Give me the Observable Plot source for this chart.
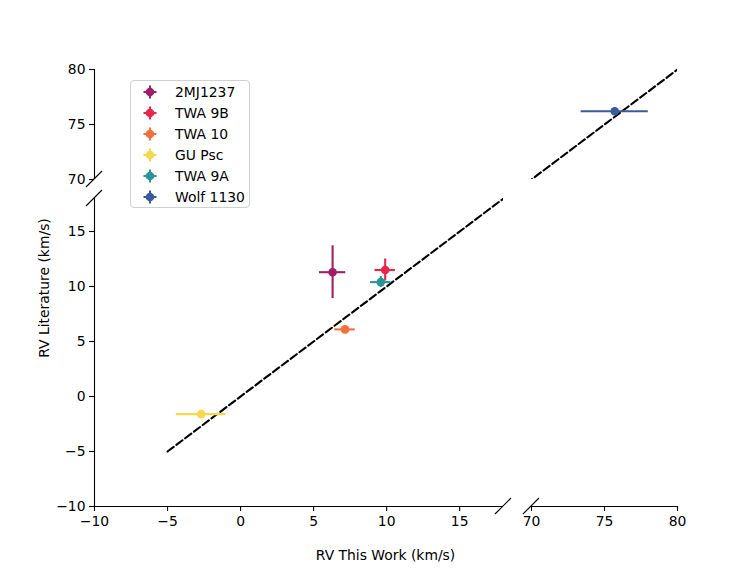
<!DOCTYPE html>
<html>
<head>
<meta charset="utf-8">
<script src="https://cdn.jsdelivr.net/npm/d3@7"></script>
<script src="https://cdn.jsdelivr.net/npm/@observablehq/plot@0.6"></script>
<style>
  body { margin: 0; background: #fff; }
  #fig { position: relative; width: 752px; height: 569px; font-family: "DejaVu Sans", sans-serif; font-size: 13.9px; color: #000; overflow: hidden; }
  #fig svg.panel { position: absolute; left: 0; top: 0; }
  .axis-label { position: absolute; white-space: nowrap; line-height: 1; }
  #legend { position: absolute; left: 130px; top: 80px; width: 120px; height: 128px; box-sizing: border-box;
            border: 1px solid #d0d0d0; border-radius: 4px; background: rgba(255,255,255,0.8); }
  #legend .item { position: absolute; left: 0; height: 20px; display: flex; align-items: center; }
  #legend .item svg { margin-left: 11px; }
  #legend .item span { margin-left: 17px; }
</style>
</head>
<body>
<div id="fig"></div>
<script>
// Radial velocities: this work vs. literature (km/s)
const names = ["2MJ1237", "TWA 9B", "TWA 10", "GU Psc", "TWA 9A", "Wolf 1130"];
const rvThisWork = [6.3, 9.9, 7.15, -2.7, 9.6, 75.7];
const rvThisWorkErr = [0.9, 0.7, 0.7, 1.7, 0.7, 2.3];
const rvLiterature = [11.3, 11.5, 6.1, -1.6, 10.4, 76.2];
const rvLiteratureErr = [2.4, 1.0, 0.1, 0.1, 0.5, 0.1];
const colors = ["#9e1f66", "#e8254a", "#f2703b", "#f7d74c", "#2a9497", "#3a5a9c"];

// Broken-axis segments and their ticks
const lowDomain = [-10, 18];
const highDomain = [70, 80];
const lowTicks = [-10, -5, 0, 5, 10, 15];
const highTicks = [70, 75, 80];
// One-to-one reference line extent
const oneToOne = [-5, 80];

const stars = names.map((name, i) => ({
  name,
  x: rvThisWork[i], xErr: rvThisWorkErr[i],
  y: rvLiterature[i], yErr: rvLiteratureErr[i]
}));

const W = 752, H = 569;
const fmt = d3.format("d");
const fig = document.getElementById("fig");

// Diagonal "//" break markers on the spines, placed at frame corners
function breaks(corners) {
  return (index, scales, values, dim) => {
    const g = d3.create("svg:g").attr("stroke", "black").attr("stroke-width", 1.1);
    const s = 8;
    for (const [hx, vy] of corners) {
      const px = hx === "left" ? dim.marginLeft : dim.width - dim.marginRight;
      const py = vy === "top" ? dim.marginTop : dim.height - dim.marginBottom;
      g.append("line").attr("x1", px - s).attr("y1", py + s).attr("x2", px + s).attr("y2", py - s);
    }
    return g.node();
  };
}

function panel({xDomain, yDomain, left, right, top, bottom, showX, showY, corners}) {
  const marks = [
    Plot.line(oneToOne, {x: d => d, y: d => d, stroke: "black", strokeWidth: 2.1, strokeDasharray: "7.7,3.3", clip: true}),
    ...stars.flatMap(s => [
      Plot.ruleY([s], {y: "y", x1: d => d.x - d.xErr, x2: d => d.x + d.xErr, stroke: "name", strokeWidth: 2.1, clip: true}),
      Plot.ruleX([s], {x: "x", y1: d => d.y - d.yErr, y2: d => d.y + d.yErr, stroke: "name", strokeWidth: 2.1, clip: true}),
      Plot.dot([s], {x: "x", y: "y", fill: "name", r: 4.3, clip: true})
    ])
  ];
  if (showY) {
    marks.push(Plot.ruleX([xDomain[0]], {stroke: "black", strokeWidth: 1.1}));
    marks.push(Plot.axisY({ticks: showY, tickSize: 5, tickPadding: 4, tickFormat: fmt, label: null, strokeWidth: 1.1}));
  }
  if (showX) {
    marks.push(Plot.ruleY([yDomain[0]], {stroke: "black", strokeWidth: 1.1}));
    marks.push(Plot.axisX({ticks: showX, tickSize: 5, tickPadding: 5, tickFormat: fmt, label: null, strokeWidth: 1.1}));
  }
  marks.push(breaks(corners));
  const svg = Plot.plot({
    width: W, height: H,
    marginLeft: left, marginRight: W - right, marginTop: top, marginBottom: H - bottom,
    x: {domain: xDomain, axis: null},
    y: {domain: yDomain, axis: null},
    color: {domain: names, range: colors},
    style: {fontSize: "13.9px", fontFamily: "DejaVu Sans, sans-serif", color: "black", background: "transparent", overflow: "visible"},
    marks
  });
  svg.classList.add("panel");
  fig.appendChild(svg);
}

// lower-left, upper-left, lower-right, upper-right
panel({xDomain: lowDomain, yDomain: lowDomain, left: 94, right: 503, top: 198, bottom: 506, showX: lowTicks, showY: lowTicks, corners: [["left", "top"], ["right", "bottom"]]});
panel({xDomain: lowDomain, yDomain: highDomain, left: 94, right: 503, top: 69, bottom: 179, showX: null, showY: highTicks, corners: [["left", "bottom"]]});
panel({xDomain: highDomain, yDomain: lowDomain, left: 531, right: 677, top: 198, bottom: 506, showX: highTicks, showY: null, corners: [["left", "bottom"]]});
panel({xDomain: highDomain, yDomain: highDomain, left: 531, right: 677, top: 69, bottom: 179, showX: null, showY: null, corners: []});

// Axis titles
const xl = document.createElement("div");
xl.className = "axis-label";
xl.textContent = "RV This Work (km/s)";
xl.style.left = "385.5px"; xl.style.top = "549px"; xl.style.transform = "translateX(-50%)";
fig.appendChild(xl);

const yl = document.createElement("div");
yl.className = "axis-label";
yl.textContent = "RV Literature (km/s)";
yl.style.left = "45px"; yl.style.top = "287.5px"; yl.style.transform = "translate(-50%, -50%) rotate(-90deg)";
fig.appendChild(yl);

// Legend
const legend = document.createElement("div");
legend.id = "legend";
names.forEach((name, i) => {
  const item = document.createElement("div");
  item.className = "item";
  item.style.top = (1 + i * 21) + "px";
  const icon = d3.create("svg").attr("width", 16).attr("height", 16);
  icon.append("line").attr("x1", 1.5).attr("x2", 14.5).attr("y1", 8).attr("y2", 8).attr("stroke", colors[i]).attr("stroke-width", 2.1);
  icon.append("line").attr("x1", 8).attr("x2", 8).attr("y1", 1.5).attr("y2", 14.5).attr("stroke", colors[i]).attr("stroke-width", 2.1);
  icon.append("circle").attr("cx", 8).attr("cy", 8).attr("r", 4.3).attr("fill", colors[i]);
  item.appendChild(icon.node());
  const label = document.createElement("span");
  label.textContent = name;
  item.appendChild(label);
  legend.appendChild(item);
});
fig.appendChild(legend);
</script>
</body>
</html>
